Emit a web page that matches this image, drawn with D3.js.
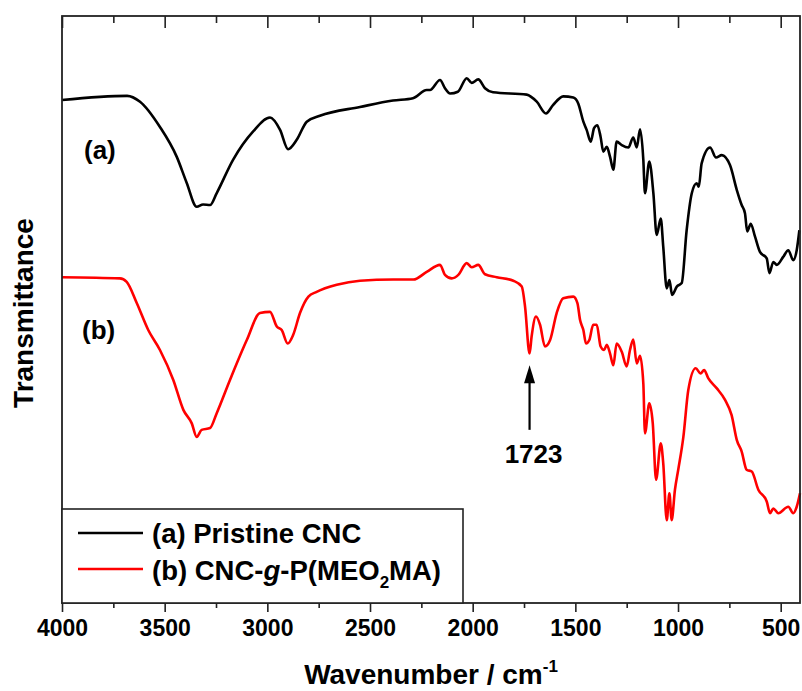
<!DOCTYPE html>
<html>
<head>
<meta charset="utf-8">
<script src="https://cdn.jsdelivr.net/npm/d3@7"></script>
<style>
  html, body { margin: 0; padding: 0; background: #fff; }
  svg { display: block; }
  text { font-family: Arial, "Liberation Sans", sans-serif; font-weight: bold; fill: #000; }
</style>
</head>
<body>
<div id="chart"></div>
<script>
// FTIR spectra, wavenumber (cm-1) vs transmittance (arbitrary units, 0-100)
const wavenumberA = [4000, 3683, 3620, 3523, 3441, 3393, 3344, 3313, 3279, 3247, 3167, 3070, 2987, 2938, 2899, 2857, 2808, 2744, 2549, 2388, 2291, 2224, 2208, 2159, 2135, 2110, 2072, 2029, 2005, 1973, 1940, 1901, 1737, 1688, 1643, 1609, 1559, 1510, 1486, 1461, 1445, 1425, 1409, 1393, 1377, 1364, 1347, 1331, 1315, 1299, 1274, 1242, 1218, 1201, 1185, 1169, 1161, 1140, 1120, 1104, 1084, 1072, 1055, 1042, 1029, 1006, 982, 958, 933, 909, 899, 885, 844, 815, 787, 747, 714, 690, 674, 663, 646, 625, 601, 568, 555, 536, 519, 487, 463, 439, 422, 409];
const transA = [85.7, 86.4, 85.4, 81.1, 76.0, 71.6, 67.5, 67.9, 67.8, 69.8, 75.5, 80.3, 82.7, 80.6, 77.3, 78.9, 82.0, 83.0, 84.5, 85.6, 86.0, 87.4, 87.4, 89.1, 87.7, 86.8, 87.1, 89.4, 88.6, 89.2, 87.7, 87.0, 86.6, 85.4, 83.4, 84.8, 86.3, 86.1, 85.1, 82.0, 80.6, 78.6, 80.9, 81.4, 79.4, 76.9, 77.7, 76.0, 73.8, 78.6, 78.0, 77.6, 79.3, 77.6, 80.7, 75.5, 69.8, 75.2, 69.8, 62.7, 65.5, 60.7, 53.6, 55.0, 52.5, 53.9, 54.5, 63.5, 69.8, 71.5, 70.9, 74.9, 77.6, 75.9, 76.3, 74.6, 70.4, 67.8, 66.4, 63.3, 64.6, 62.4, 59.8, 58.7, 56.2, 58.1, 57.6, 59.0, 60.1, 58.4, 60.1, 63.5];

const wavenumberB = [4000, 3718, 3685, 3636, 3580, 3523, 3458, 3409, 3368, 3344, 3320, 3279, 3247, 3182, 3100, 3036, 2987, 2954, 2930, 2901, 2874, 2841, 2800, 2760, 2662, 2549, 2387, 2289, 2224, 2159, 2135, 2102, 2070, 2029, 2005, 1973, 1940, 1883, 1802, 1761, 1745, 1723, 1713, 1692, 1672, 1648, 1623, 1591, 1559, 1510, 1490, 1477, 1461, 1448, 1432, 1413, 1396, 1377, 1360, 1347, 1331, 1315, 1299, 1274, 1250, 1234, 1218, 1201, 1185, 1169, 1161, 1140, 1123, 1107, 1084, 1072, 1055, 1042, 1031, 1015, 999, 974, 950, 914, 890, 873, 853, 812, 771, 739, 714, 690, 666, 641, 609, 568, 552, 536, 512, 463, 439, 422, 406];
const transB = [55.5, 55.3, 54.7, 51.1, 46.5, 43.1, 38.0, 32.9, 30.6, 28.3, 29.5, 29.8, 32.3, 38.0, 44.8, 49.4, 49.6, 47.1, 46.5, 44.2, 45.7, 49.4, 52.2, 53.0, 54.2, 54.9, 55.1, 55.1, 56.4, 57.6, 55.9, 55.3, 55.9, 57.9, 57.2, 57.6, 56.0, 55.5, 54.9, 53.9, 50.5, 42.5, 45.4, 48.8, 47.4, 43.7, 44.8, 49.4, 51.9, 52.2, 51.1, 48.2, 46.5, 44.2, 44.8, 47.4, 47.4, 43.7, 43.1, 44.0, 42.5, 40.5, 44.2, 42.8, 40.3, 43.1, 44.9, 40.8, 42.1, 37.4, 28.9, 34.0, 30.6, 21.0, 27.2, 23.8, 14.1, 18.7, 14.1, 19.3, 22.7, 28.3, 36.3, 40.0, 39.1, 39.7, 38.3, 36.6, 34.6, 32.0, 27.8, 25.8, 22.7, 22.4, 19.3, 17.3, 15.3, 16.1, 15.3, 16.4, 15.3, 16.4, 18.7];

const seriesNames = ["(a) Pristine CNC", "(b) CNC-g-P(MEO2MA)"];
const seriesColors = ["#000000", "#ff0000"];
const xTicks = [4000, 3500, 3000, 2500, 2000, 1500, 1000, 500];
const xMinorTicks = [3750, 3250, 2750, 2250, 1750, 1250, 750];
const peakLabel = { wavenumber: 1723, tip: 40.5, tail: 29.5, text: "1723" };

const width = 802, height = 691;
const margin = { left: 62, right: 2, top: 16, bottom: 88 };

const svg = d3.select("#chart").append("svg")
  .attr("width", width).attr("height", height);

const x = d3.scaleLinear().domain([4000, 406]).range([margin.left, width - margin.right]);
const y = d3.scaleLinear().domain([0, 100]).range([height - margin.bottom, margin.top]);

const x0 = margin.left, x1 = width - margin.right;
const y0 = margin.top, y1 = height - margin.bottom;

// curves
const line = d3.line()
  .x(d => x(d[0]))
  .y(d => y(d[1]))
  .curve(d3.curveMonotoneX);

const dataA = d3.zip(wavenumberA, transA);
const dataB = d3.zip(wavenumberB, transB);

svg.append("path").datum(dataA)
  .attr("d", line).attr("fill", "none")
  .attr("stroke", seriesColors[0]).attr("stroke-width", 2.6)
  .attr("stroke-linejoin", "round");

svg.append("path").datum(dataB)
  .attr("d", line).attr("fill", "none")
  .attr("stroke", seriesColors[1]).attr("stroke-width", 2.6)
  .attr("stroke-linejoin", "round");

// bottom axis
const bottom = svg.append("g").attr("transform", `translate(0,${y1})`)
  .call(d3.axisBottom(x).tickValues(xTicks).tickSize(9).tickPadding(7).tickFormat(d3.format("d")));
bottom.selectAll("text").style("font-size", "23px").attr("dy", "0.72em");
svg.append("g").attr("transform", `translate(0,${y1})`)
  .call(d3.axisBottom(x).tickValues(xMinorTicks).tickSize(5).tickFormat(""));

// top axis, ticks pointing inward
svg.append("g").attr("transform", `translate(0,${y0})`)
  .call(d3.axisBottom(x).tickValues(xTicks).tickSize(12).tickFormat(""));
svg.append("g").attr("transform", `translate(0,${y0})`)
  .call(d3.axisBottom(x).tickValues(xMinorTicks).tickSize(7).tickFormat(""));

svg.selectAll(".domain").remove();
svg.selectAll(".tick line").attr("stroke", "#222").attr("stroke-width", 1.6);

// frame
svg.append("rect")
  .attr("x", x0).attr("y", y0)
  .attr("width", x1 - x0).attr("height", y1 - y0)
  .attr("fill", "none").attr("stroke", "#222").attr("stroke-width", 1.8);

// axis titles
svg.append("text")
  .attr("x", (x0 + x1) / 2).attr("y", 684)
  .attr("text-anchor", "middle").style("font-size", "28px")
  .text("Wavenumber / cm")
  .append("tspan").attr("dy", -12).style("font-size", "17px").text("-1");

svg.append("text")
  .attr("transform", "translate(33,313) rotate(-90)")
  .attr("text-anchor", "middle").style("font-size", "28px")
  .text("Transmittance");

// curve labels
svg.append("text").attr("x", 84).attr("y", 159).style("font-size", "26px").text("(a)");
svg.append("text").attr("x", 82).attr("y", 339).style("font-size", "26px").text("(b)");

// arrow at 1723
const ax = x(peakLabel.wavenumber);
svg.append("line")
  .attr("x1", ax).attr("x2", ax)
  .attr("y1", y(peakLabel.tail)).attr("y2", y(peakLabel.tip) + 14)
  .attr("stroke", "#000").attr("stroke-width", 2.2);
svg.append("path")
  .attr("d", `M${ax},${y(peakLabel.tip)} L${ax - 5.5},${y(peakLabel.tip) + 18} L${ax + 5.5},${y(peakLabel.tip) + 18} Z`)
  .attr("fill", "#000");
svg.append("text")
  .attr("x", ax + 4).attr("y", 463)
  .attr("text-anchor", "middle").style("font-size", "26px")
  .text(peakLabel.text);

// legend
const legend = svg.append("g");
legend.append("rect")
  .attr("x", x0).attr("y", 509)
  .attr("width", 401).attr("height", y1 - 509)
  .attr("fill", "#fff").attr("stroke", "#222").attr("stroke-width", 1.6);

[533, 569].forEach((ly, i) => {
  legend.append("line")
    .attr("x1", 78).attr("x2", 143).attr("y1", ly).attr("y2", ly)
    .attr("stroke", seriesColors[i]).attr("stroke-width", 2.6);
});

legend.append("text").attr("x", 152).attr("y", 543).style("font-size", "27.5px")
  .text(seriesNames[0]);

const t2 = legend.append("text").attr("x", 152).attr("y", 580).style("font-size", "27.5px");
t2.append("tspan").text("(b) CNC-");
t2.append("tspan").style("font-style", "italic").text("g");
t2.append("tspan").text("-P(MEO");
t2.append("tspan").attr("dy", 8).style("font-size", "17px").text("2");
t2.append("tspan").attr("dy", -8).text("MA)");
</script>
</body>
</html>
